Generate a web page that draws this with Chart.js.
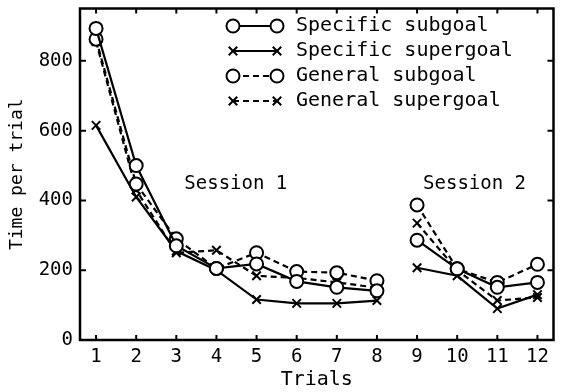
<!DOCTYPE html>
<html>
<head>
<meta charset="utf-8">
<script src="https://cdn.jsdelivr.net/npm/chart.js@4/dist/chart.umd.min.js"></script>
<style>
  html, body { margin: 0; background: #fff; }
  #wrap { width: 562px; height: 392px; }
</style>
</head>
<body>
<div id="wrap"><canvas id="myChart"></canvas></div>
<script>
// data
const trials = [1, 2, 3, 4, 5, 6, 7, 8, 9, 10, 11, 12];
const specificSubgoal   = [893, 500, 270, 205, 218, 168, 151, 141, 286, 204, 151, 165];
const specificSupergoal = [615, 410, 255, 200, 116, 105, 105, 113, 207, 184, 90, 130];
const generalSubgoal    = [862, 447, 290, 205, 250, 196, 193, 170, 387, 204, 165, 217];
const generalSupergoal  = [855, 430, 250, 257, 184, 178, 165, 150, 335, 200, 113, 122];
const seriesNames = ["Specific subgoal", "Specific supergoal", "General subgoal", "General supergoal"];
const yTicks = [0, 200, 400, 600, 800];
const sessionNames = ["Session 1", "Session 2"];
const lastTrialOfSession1 = 8;

const FONT = "DejaVu Sans Mono";

let makeSet = (label, values, style, dashed) => {
  return {
    label: label,
    data: trials.map((t, i) => ({ x: t, y: values[i] })),
    borderColor: "#000",
    backgroundColor: "#fff",
    borderWidth: 2.2,
    borderDash: dashed ? [6, 4] : [],
    pointStyle: style,
    pointRadius: style === "circle" ? 6.5 : 6,
    pointBorderWidth: 2,
    pointBorderColor: "#000",
    pointBackgroundColor: "#fff",
    tension: 0,
    segment: {
      // no line between the two sessions
      borderColor: c => (c.p0DataIndex === lastTrialOfSession1 - 1 ? "rgba(0,0,0,0)" : "#000"),
    },
  };
};

let drawMarker = (ctx, style, x, y) => {
  ctx.save();
  ctx.setLineDash([]);
  ctx.lineWidth = 2;
  ctx.strokeStyle = "#000";
  if (style === "circle") {
    ctx.fillStyle = "#fff";
    ctx.beginPath();
    ctx.arc(x, y, 6.5, 0, Math.PI * 2);
    ctx.fill();
    ctx.stroke();
  } else {
    const r = 6 * Math.SQRT1_2;
    ctx.beginPath();
    ctx.moveTo(x - r, y - r); ctx.lineTo(x + r, y + r);
    ctx.moveTo(x - r, y + r); ctx.lineTo(x + r, y - r);
    ctx.stroke();
  }
  ctx.restore();
};

const extras = {
  id: "extras",
  afterDraw(chart) {
    const ctx = chart.ctx;
    const a = chart.chartArea;
    const xs = chart.scales.x, ys = chart.scales.y;

    // frame
    ctx.save();
    ctx.strokeStyle = "#000";
    ctx.lineWidth = 2.5;
    ctx.strokeRect(a.left, a.top, a.right - a.left, a.bottom - a.top);

    // inward ticks on all four sides
    ctx.lineWidth = 2;
    ctx.beginPath();
    trials.forEach(t => {
      const px = xs.getPixelForValue(t);
      ctx.moveTo(px, a.bottom); ctx.lineTo(px, a.bottom - 5);
      ctx.moveTo(px, a.top); ctx.lineTo(px, a.top + 5);
    });
    yTicks.forEach(v => {
      const py = ys.getPixelForValue(v);
      ctx.moveTo(a.left, py); ctx.lineTo(a.left + 6, py);
      ctx.moveTo(a.right, py); ctx.lineTo(a.right - 6, py);
    });
    ctx.stroke();

    // session labels
    ctx.fillStyle = "#000";
    ctx.font = "19px '" + FONT + "'";
    ctx.textBaseline = "middle";
    ctx.textAlign = "left";
    ctx.fillText(sessionNames[0], xs.getPixelForValue(3.2), ys.getPixelForValue(447));
    ctx.fillText(sessionNames[1], xs.getPixelForValue(9.15), ys.getPixelForValue(447));

    // legend: marker - line - marker, then name
    ctx.font = "20px '" + FONT + "'";
    chart.data.datasets.forEach((ds, i) => {
      const y = 26 + i * 25;
      const x1 = 233, x2 = 277;
      ctx.save();
      ctx.lineWidth = 2;
      ctx.setLineDash(ds.borderDash);
      ctx.beginPath();
      ctx.moveTo(x1, y); ctx.lineTo(x2, y);
      ctx.stroke();
      ctx.restore();
      drawMarker(ctx, ds.pointStyle, x1, y);
      drawMarker(ctx, ds.pointStyle, x2, y);
      ctx.fillText(ds.label, 296, y);
    });
    ctx.restore();
  },
};

const ctx = document.getElementById("myChart");
const config = {
  type: "line",
  data: {
    datasets: [
      makeSet(seriesNames[0], specificSubgoal, "circle", false),
      makeSet(seriesNames[1], specificSupergoal, "crossRot", false),
      makeSet(seriesNames[2], generalSubgoal, "circle", true),
      makeSet(seriesNames[3], generalSupergoal, "crossRot", true),
    ],
  },
  options: {
    responsive: true,
    maintainAspectRatio: false,
    animation: false,
    layout: { padding: { top: 5, right: 2, left: 0, bottom: 0 } },
    plugins: { legend: { display: false }, tooltip: { enabled: false } },
    scales: {
      x: {
        type: "linear",
        min: 0.6,
        max: 12.4,
        afterBuildTicks: s => { s.ticks = trials.map(v => ({ value: v })); },
        afterFit: s => { s.height = 52; s.paddingLeft = 0; s.paddingRight = 0; },
        grid: { display: false, drawTicks: false },
        border: { display: false },
        ticks: { color: "#000", padding: 6, font: { family: FONT, size: 19 } },
        title: { display: true, text: "Trials", color: "#000", padding: { top: 0, bottom: 0 }, font: { family: FONT, size: 20 } },
      },
      y: {
        min: 0,
        max: 950,
        afterBuildTicks: s => { s.ticks = yTicks.map(v => ({ value: v })); },
        afterFit: s => { s.width = 80; s.paddingTop = 0; s.paddingBottom = 0; },
        grid: { display: false, drawTicks: false },
        border: { display: false },
        ticks: { color: "#000", padding: 7, font: { family: FONT, size: 19 } },
        title: { display: true, text: "Time per trial", color: "#000", padding: { top: 7, bottom: 0 }, font: { family: FONT, size: 18 } },
      },
    },
  },
  plugins: [extras],
};
const chart = new Chart(ctx, config);
</script>
</body>
</html>
